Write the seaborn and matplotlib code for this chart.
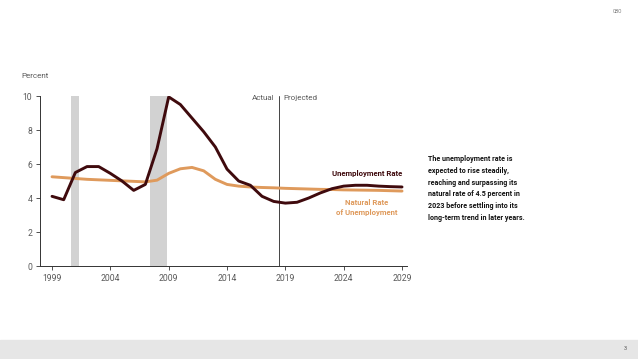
import numpy as np
import pandas as pd
import seaborn as sns
import matplotlib
matplotlib.use("Agg")
from matplotlib import pyplot as plt

# annual values
years = list(range(1999, 2030))
unemployment = [4.1, 3.9, 5.5, 5.85, 5.85, 5.45, 5.0, 4.45, 4.8, 6.9, 9.95, 9.5, 8.7, 7.9,
                7.0, 5.7, 5.0, 4.75, 4.1, 3.8, 3.7, 3.75, 4.0, 4.3, 4.55, 4.7, 4.75, 4.75,
                4.7, 4.67, 4.65]
natural_rate = [5.25, 5.2, 5.15, 5.1, 5.07, 5.04, 5.01, 4.98, 4.95, 5.05, 5.45, 5.72, 5.8,
                5.6, 5.1, 4.8, 4.7, 4.65, 4.62, 4.6, 4.57, 4.55, 4.53, 4.51, 4.5, 4.48,
                4.47, 4.46, 4.45, 4.43, 4.41]
recessions = [(2000.63, 2001.3), (2007.4, 2008.88)]
split_year = 2018.45
x_ticks = [1999, 2004, 2009, 2014, 2019, 2024, 2029]
y_ticks = [0, 2, 4, 6, 8, 10]

df = pd.DataFrame({"year": years, "Unemployment Rate": unemployment,
                   "Natural Rate": natural_rate})

sns.set_style("white")
plt.rcParams['font.family'] = ['Roboto', 'DejaVu Sans']

dark = "#3f0a0d"
orange = "#df9a5c"
grey = "#5a5a5a"

fig = plt.figure(figsize=(6.38, 3.59), dpi=100)
ax = fig.add_axes([0.0627, 0.259, 0.5753, 0.4735])

for a, b in recessions:
    ax.axvspan(a, b, color="#d2d2d2", lw=0, zorder=0)

sns.lineplot(data=df, x="year", y="Natural Rate", color=orange, lw=2.1, ax=ax, zorder=2)
sns.lineplot(data=df, x="year", y="Unemployment Rate", color=dark, lw=2.1, ax=ax, zorder=3)

ax.axvline(split_year, color="#444444", lw=0.7, zorder=1)
ax.text(split_year - 0.4, 9.87, "Actual", ha="right", va="center", fontsize=5.8, color=grey)
ax.text(split_year + 0.4, 9.87, "Projected", ha="left", va="center", fontsize=5.8, color=grey)

ax.set_xlim(1997.97, 2029.43)
ax.set_ylim(0, 10)
ax.set_xticks(x_ticks)
ax.set_yticks(y_ticks)
ax.set_xlabel("")
ax.set_ylabel("")
ax.tick_params(axis="both", labelsize=6.2, colors="#333333", labelcolor=grey,
               length=3, width=0.6, direction="out", bottom=True, left=True, pad=2.5)
for s in ["top", "right"]:
    ax.spines[s].set_visible(False)
for s in ["left", "bottom"]:
    ax.spines[s].set_color("#333333")
    ax.spines[s].set_linewidth(0.7)

ax.text(-0.05, 1.1, "Percent", transform=ax.transAxes, fontsize=5.8, color=grey,
        ha="left", va="bottom")

ax.text(2026.0, 5.47, "Unemployment Rate", fontsize=5.6, color=dark, fontweight="bold",
        ha="center", va="center")
ax.text(2026.0, 3.45, "Natural Rate\nof Unemployment", fontsize=5.6, color=orange,
        fontweight="bold", ha="center", va="center", linespacing=1.5)

fig.text(0.671, 0.568, "The unemployment rate is\nexpected to rise steadily,\n"
         "reaching and surpassing its\nnatural rate of 4.5 percent in\n"
         "2023 before settling into its\nlong-term trend in later years.",
         fontsize=5.1, color="#111111", fontweight="bold", ha="left", va="top",
         linespacing=1.62)

fig.text(0.975, 0.975, "CBO", fontsize=3.5, color="#777777", ha="right", va="top")
fig.patches.append(plt.Rectangle((0, 0), 1, 0.053, transform=fig.transFigure,
                                 color="#e6e6e6", zorder=0))
fig.text(0.982, 0.028, "3", fontsize=4, color="#555555", ha="right", va="center")

fig.savefig("out.png", dpi=100)
